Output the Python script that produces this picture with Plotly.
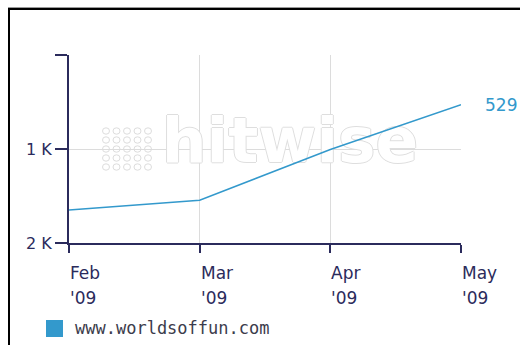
import plotly.graph_objects as go

# Monthly rank for the site (lower rank = better, so the axis runs downward)
months = ["Feb", "Mar", "Apr", "May"]
years = ["'09", "'09", "'09", "'09"]
rank = [1650, 1545, 1005, 529]
series_name = "www.worldsoffun.com"
y_ticks = [0, 1000, 2000]
y_tick_text = ["", "1 K", "2 K"]

W, H = 520, 345
L, R, T, B = 69, 59, 55, 102
PW, PH = W - L - R, H - T - B

NAVY = "#2b2b5c"
BLUE = "#3399cc"
GRID = "#dcdcdc"
FONT = "DejaVu Sans"


def px_x(px):
    return (px - L) / PW


def px_y(py):
    return (H - B - py) / PH


x_idx = list(range(len(months)))

fig = go.Figure()

# faint watermark behind the data line
fig.add_trace(go.Scatter(
    x=[px_x(290) * 3], y=[(146 - T) / PH * 2000],
    mode="text", text=["hitwise"],
    textfont=dict(family=FONT, size=63, color="#ffffff", weight="bold",
                  shadow="1px 0 0 #dedede, -1px 0 0 #dedede, 0 1px 0 #dedede, 0 -1px 0 #dedede"),
    hoverinfo="skip", showlegend=False,
))

fig.add_trace(go.Scatter(
    x=x_idx, y=rank, mode="lines", name=series_name,
    line=dict(color=BLUE, width=1.5), showlegend=False,
))

shapes = []
# dot grid of the watermark logo
for i in range(5):
    for j in range(5):
        cx, cy = 106 + i * 10.5, 131 + j * 9
        shapes.append(dict(type="circle", xref="paper", yref="paper", layer="below",
                           x0=px_x(cx - 3.5), x1=px_x(cx + 3.5),
                           y0=px_y(cy + 3.2), y1=px_y(cy - 3.2),
                           line=dict(color="#dddddd", width=1)))

# outer frame (top and left edges)
shapes += [
    dict(type="line", xref="paper", yref="paper", x0=px_x(8), x1=px_x(W),
         y0=px_y(7.5), y1=px_y(7.5), line=dict(color="#9a9a9a", width=1)),
    dict(type="line", xref="paper", yref="paper", x0=px_x(8), x1=px_x(W),
         y0=px_y(9), y1=px_y(9), line=dict(color="#000000", width=2)),
    dict(type="line", xref="paper", yref="paper", x0=px_x(9), x1=px_x(9),
         y0=px_y(8), y1=px_y(H), line=dict(color="#000000", width=2)),
]

# legend swatch
shapes.append(dict(type="rect", xref="paper", yref="paper",
                   x0=px_x(46), x1=px_x(63), y0=px_y(337), y1=px_y(320),
                   fillcolor=BLUE, line=dict(width=0)))

annotations = []
for i, (m, yy) in enumerate(zip(months, years)):
    annotations.append(dict(x=i, y=px_y(273), xref="x", yref="paper", text=m,
                            showarrow=False, xanchor="left", yanchor="middle", xshift=-1,
                            font=dict(family=FONT, size=17, color=NAVY)))
    annotations.append(dict(x=i, y=px_y(298), xref="x", yref="paper", text=yy,
                            showarrow=False, xanchor="left", yanchor="middle", xshift=-1,
                            font=dict(family=FONT, size=17, color=NAVY)))

# value label for the latest month
annotations.append(dict(x=x_idx[-1], y=rank[-1], xref="x", yref="y", text=str(rank[-1]),
                        showarrow=False, xanchor="left", yanchor="middle", xshift=22,
                        font=dict(family=FONT, size=17, color=BLUE)))

annotations.append(dict(x=px_x(73), y=px_y(328), xref="paper", yref="paper", text=series_name,
                        showarrow=False, xanchor="left", yanchor="middle",
                        font=dict(family="DejaVu Sans Mono", size=17, color="#3c3c4c")))

fig.update_layout(
    width=W, height=H,
    margin=dict(l=L, r=R, t=T, b=B),
    paper_bgcolor="white", plot_bgcolor="white",
    showlegend=False,
    shapes=shapes, annotations=annotations,
    xaxis=dict(range=[0, 3], tickvals=x_idx, showticklabels=False,
               showgrid=True, gridcolor=GRID, gridwidth=1, zeroline=False,
               showline=True, linecolor=NAVY, linewidth=2,
               ticks="outside", ticklen=8, tickwidth=2, tickcolor=NAVY,
               fixedrange=True),
    yaxis=dict(range=[2000, 0], tickvals=y_ticks, ticktext=y_tick_text,
               showgrid=True, gridcolor=GRID, gridwidth=1, zeroline=False,
               showline=True, linecolor=NAVY, linewidth=2,
               ticks="outside", ticklen=12, tickwidth=2, tickcolor=NAVY,
               tickfont=dict(family=FONT, size=16, color=NAVY),
               fixedrange=True),
)

fig.write_html("out.html")
